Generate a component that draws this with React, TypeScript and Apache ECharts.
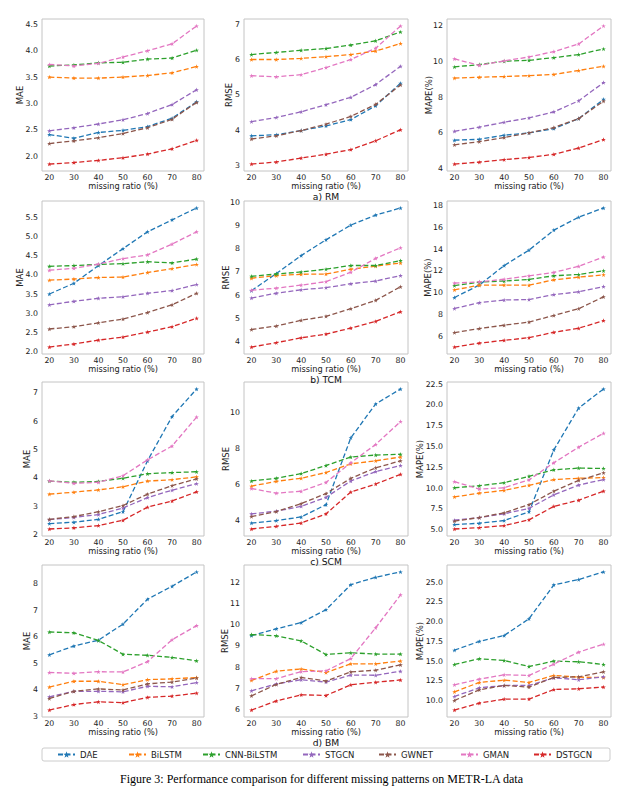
import React, { useEffect, useRef } from 'react';
import * as echarts from 'echarts';

const ratios = [20, 30, 40, 50, 60, 70, 80];
const methods = ['DAE', 'BiLSTM', 'CNN-BiLSTM', 'STGCN', 'GWNET', 'GMAN', 'DSTGCN'];
const colors = ['#1f77b4', '#ff7f0e', '#2ca02c', '#9467bd', '#8c564b', '#e377c2', '#d62728'];

// rows follow methods order: DAE, BiLSTM, CNN-BiLSTM, STGCN, GWNET, GMAN, DSTGCN
const rmMAE = [
  [2.41, 2.34, 2.45, 2.49, 2.56, 2.72, 3.03],
  [3.50, 3.48, 3.48, 3.50, 3.53, 3.58, 3.70],
  [3.71, 3.73, 3.77, 3.78, 3.84, 3.86, 4.01],
  [2.48, 2.54, 2.61, 2.69, 2.81, 2.98, 3.26],
  [2.24, 2.29, 2.35, 2.43, 2.54, 2.70, 3.02],
  [3.74, 3.71, 3.76, 3.88, 4.00, 4.13, 4.47],
  [1.85, 1.88, 1.92, 1.97, 2.04, 2.14, 2.30],
];
const rmRMSE = [
  [3.84, 3.87, 3.99, 4.12, 4.30, 4.69, 5.33],
  [6.00, 6.00, 6.03, 6.08, 6.14, 6.24, 6.45],
  [6.14, 6.20, 6.26, 6.31, 6.41, 6.53, 6.78],
  [4.24, 4.36, 4.52, 4.72, 4.93, 5.29, 5.81],
  [3.75, 3.84, 3.99, 4.17, 4.39, 4.73, 5.28],
  [5.54, 5.51, 5.57, 5.77, 6.00, 6.32, 6.95],
  [3.04, 3.10, 3.21, 3.32, 3.45, 3.70, 4.01],
];
const rmMAPE = [
  [5.59, 5.64, 5.87, 6.00, 6.24, 6.80, 7.88],
  [9.07, 9.12, 9.16, 9.21, 9.28, 9.50, 9.74],
  [9.70, 9.83, 10.02, 10.07, 10.22, 10.39, 10.71],
  [6.09, 6.32, 6.60, 6.84, 7.18, 7.80, 8.82],
  [5.33, 5.51, 5.74, 6.00, 6.30, 6.80, 7.78],
  [10.15, 9.79, 10.04, 10.26, 10.56, 10.99, 12.00],
  [4.25, 4.36, 4.50, 4.62, 4.80, 5.15, 5.63],
];
const tcmMAE = [
  [3.50, 3.78, 4.24, 4.68, 5.12, 5.43, 5.74],
  [3.86, 3.89, 3.93, 3.94, 4.06, 4.16, 4.27],
  [4.22, 4.24, 4.27, 4.29, 4.34, 4.31, 4.41],
  [3.22, 3.31, 3.39, 3.43, 3.52, 3.59, 3.75],
  [2.59, 2.65, 2.75, 2.85, 3.02, 3.22, 3.52],
  [4.12, 4.17, 4.28, 4.42, 4.52, 4.80, 5.12],
  [2.12, 2.20, 2.30, 2.38, 2.51, 2.65, 2.87],
];
const tcmRMSE = [
  [6.19, 6.93, 7.71, 8.39, 9.03, 9.46, 9.77],
  [6.73, 6.84, 6.90, 6.91, 7.12, 7.25, 7.39],
  [6.81, 6.91, 7.00, 7.12, 7.28, 7.28, 7.49],
  [5.87, 6.08, 6.23, 6.32, 6.49, 6.61, 6.84],
  [4.51, 4.66, 4.91, 5.08, 5.41, 5.77, 6.36],
  [6.21, 6.30, 6.43, 6.58, 6.99, 7.59, 8.05],
  [3.75, 3.94, 4.15, 4.31, 4.57, 4.86, 5.28],
];
const tcmMAPE = [
  [9.56, 10.70, 12.50, 13.92, 15.76, 16.95, 17.80],
  [10.26, 10.69, 10.70, 10.69, 11.19, 11.43, 11.65],
  [10.66, 10.97, 11.08, 11.22, 11.56, 11.68, 12.02],
  [8.55, 9.08, 9.33, 9.37, 9.83, 10.08, 10.57],
  [6.33, 6.70, 7.01, 7.30, 7.91, 8.53, 9.62],
  [10.88, 11.00, 11.24, 11.55, 11.87, 12.43, 13.29],
  [5.00, 5.36, 5.62, 5.86, 6.36, 6.73, 7.44],
];
const scmMAE = [
  [2.38, 2.43, 2.53, 2.80, 4.60, 6.16, 7.13],
  [3.42, 3.49, 3.57, 3.68, 3.88, 3.93, 4.03],
  [3.88, 3.84, 3.87, 3.98, 4.14, 4.18, 4.21],
  [2.52, 2.60, 2.70, 2.93, 3.30, 3.56, 3.79],
  [2.53, 2.63, 2.80, 3.02, 3.42, 3.72, 3.96],
  [3.89, 3.80, 3.84, 4.07, 4.63, 5.12, 6.14],
  [2.19, 2.23, 2.31, 2.50, 2.96, 3.18, 3.50],
];
const scmRMSE = [
  [3.83, 3.97, 4.17, 4.85, 8.57, 10.45, 11.28],
  [5.88, 6.15, 6.32, 6.64, 7.12, 7.29, 7.50],
  [6.17, 6.32, 6.58, 7.03, 7.50, 7.61, 7.65],
  [4.34, 4.49, 4.76, 5.26, 6.17, 6.69, 7.03],
  [4.19, 4.47, 4.91, 5.47, 6.32, 6.90, 7.29],
  [5.75, 5.49, 5.60, 6.09, 7.18, 8.20, 9.47],
  [3.50, 3.65, 3.83, 4.34, 5.56, 6.00, 6.54],
];
const scmMAPE = [
  [5.61, 5.77, 6.10, 7.15, 14.59, 19.63, 21.91],
  [8.94, 9.39, 9.72, 10.33, 11.02, 11.18, 11.26],
  [10.04, 10.28, 10.65, 11.42, 12.20, 12.40, 12.36],
  [6.14, 6.46, 6.91, 7.56, 9.19, 10.37, 11.02],
  [6.02, 6.46, 7.03, 8.01, 9.63, 10.93, 11.83],
  [10.77, 9.88, 10.04, 10.98, 13.05, 14.92, 16.59],
  [5.08, 5.24, 5.49, 6.18, 7.80, 8.54, 9.63],
];
const bmMAE = [
  [5.32, 5.65, 5.87, 6.48, 7.42, 7.91, 8.45],
  [4.10, 4.32, 4.32, 4.19, 4.38, 4.41, 4.46],
  [6.18, 6.15, 5.86, 5.34, 5.30, 5.22, 5.09],
  [3.73, 3.94, 3.94, 3.92, 4.13, 4.11, 4.27],
  [3.67, 3.94, 4.03, 3.99, 4.22, 4.29, 4.44],
  [4.65, 4.62, 4.68, 4.67, 5.06, 5.89, 6.42],
  [3.23, 3.44, 3.54, 3.51, 3.71, 3.76, 3.87],
];
const bmRMSE = [
  [9.49, 9.81, 10.10, 10.71, 11.89, 12.24, 12.49],
  [7.38, 7.81, 7.92, 7.75, 8.16, 8.16, 8.29],
  [9.54, 9.48, 9.24, 8.60, 8.68, 8.62, 8.62],
  [6.89, 7.21, 7.41, 7.30, 7.63, 7.62, 7.81],
  [6.65, 7.19, 7.52, 7.35, 7.78, 7.86, 8.11],
  [7.46, 7.46, 7.79, 7.83, 8.41, 9.86, 11.41],
  [5.98, 6.41, 6.70, 6.67, 7.17, 7.29, 7.40],
];
const bmMAPE = [
  [16.39, 17.50, 18.25, 20.36, 24.66, 25.34, 26.30],
  [11.12, 12.30, 12.59, 12.30, 13.19, 12.97, 12.93],
  [14.58, 15.30, 15.08, 14.32, 15.00, 14.92, 14.58],
  [10.53, 11.62, 11.92, 11.92, 12.89, 12.64, 13.02],
  [10.02, 11.37, 11.92, 11.71, 12.93, 13.02, 13.65],
  [12.00, 12.72, 13.27, 13.19, 14.62, 16.14, 17.15],
  [8.80, 9.68, 10.19, 10.19, 11.41, 11.50, 11.71],
];

const rmMaeTicks = ['2.0', '2.5', '3.0', '3.5', '4.0', '4.5'];
const rmRmseTicks = ['3', '4', '5', '6', '7'];
const rmMapeTicks = ['4', '6', '8', '10', '12'];
const tcmMaeTicks = ['2.0', '2.5', '3.0', '3.5', '4.0', '4.5', '5.0', '5.5'];
const tcmRmseTicks = ['4', '5', '6', '7', '8', '9', '10'];
const tcmMapeTicks = ['6', '8', '10', '12', '14', '16', '18'];
const scmMaeTicks = ['2', '3', '4', '5', '6', '7'];
const scmRmseTicks = ['4', '6', '8', '10'];
const scmMapeTicks = ['5.0', '7.5', '10.0', '12.5', '15.0', '17.5', '20.0', '22.5'];
const bmMaeTicks = ['3', '4', '5', '6', '7', '8'];
const bmRmseTicks = ['6', '7', '8', '9', '10', '11', '12'];
const bmMapeTicks = ['10.0', '12.5', '15.0', '17.5', '20.0', '22.5', '25.0'];

const metricTitles = ['MAE', 'RMSE', 'MAPE(%)'];
const rowCaptions = ['a) RM', 'b) TCM', 'c) SCM', 'd) BM'];
const xTitle = 'missing ratio (%)';
const figureCaption = 'Figure 3: Performance comparison for different missing patterns on METR-LA data';

// layout (pixels)
const colLeft = [42, 244, 447];
const colWidth = [162, 164, 164];
const rowTop = [19, 201, 382, 565];
const rowHeight = [152, 153, 154, 152];
const captionGap = [25.5, 25, 25, 25];
const yTitleX = [
  [20, 229, 429],
  [20, 226, 428],
  [27, 226, 420],
  [27, 225, 420],
];
const legendLeft = [57, 128, 202, 302, 378, 460, 533];

const STAR = 'path://M50 0 L61.17 34.63 L97.55 34.55 L68.07 55.87 L79.39 90.45 L50 69 L20.61 90.45 L31.93 55.87 L2.45 34.55 L38.83 34.63 Z';
const FONT = 'DejaVu Sans';

const panels = [
  [rmMAE, rmMaeTicks], [rmRMSE, rmRmseTicks], [rmMAPE, rmMapeTicks],
  [tcmMAE, tcmMaeTicks], [tcmRMSE, tcmRmseTicks], [tcmMAPE, tcmMapeTicks],
  [scmMAE, scmMaeTicks], [scmRMSE, scmRmseTicks], [scmMAPE, scmMapeTicks],
  [bmMAE, bmMaeTicks], [bmRMSE, bmRmseTicks], [bmMAPE, bmMapeTicks],
] as [number[][], string[]][];

function centered(text: string, x: number, y: number, fontSize: number, fill: string, family: string, rotation = 0) {
  return {
    type: 'text', x, y, rotation,
    style: {
      text, fontSize, fontFamily: family, fill,
      align: 'center', verticalAlign: 'middle', textAlign: 'center', textVerticalAlign: 'middle',
    },
  };
}

function buildOption() {
  const grid: any[] = [];
  const xAxis: any[] = [];
  const yAxis: any[] = [];
  const series: any[] = [];
  const graphic: any[] = [];

  panels.forEach(([data, ticks], pi) => {
    const row = Math.floor(pi / 3);
    const col = pi % 3;
    const all = data.flat();
    const lo = Math.min(...all);
    const hi = Math.max(...all);
    const pad = (hi - lo) * 0.05;
    const decimals = ticks[0].includes('.') ? 1 : 0;
    grid.push({
      left: colLeft[col], top: rowTop[row], width: colWidth[col], height: rowHeight[row],
      show: true, borderColor: '#c4c4c4', borderWidth: 1, backgroundColor: '#fff',
    });
    xAxis.push({
      type: 'value', gridIndex: pi, min: 17, max: 83,
      axisLine: { show: false }, axisTick: { show: false }, splitLine: { show: false },
      axisLabel: {
        customValues: ratios, formatter: (v: number) => String(v),
        fontSize: 7.8, fontFamily: FONT, color: '#222', margin: 2, lineHeight: 9,
      },
    });
    yAxis.push({
      type: 'value', gridIndex: pi, min: lo - pad, max: hi + pad,
      axisLine: { show: false }, axisTick: { show: false }, splitLine: { show: false },
      axisLabel: {
        customValues: ticks.map(Number), formatter: (v: number) => v.toFixed(decimals),
        fontSize: 7.8, fontFamily: FONT, color: '#222', margin: 4,
      },
    });
    data.forEach((vals, mi) => {
      series.push({
        type: 'line', name: methods[mi], xAxisIndex: pi, yAxisIndex: pi,
        data: ratios.map((r, k) => [r, vals[k]]),
        symbol: STAR, symbolSize: 4.5, showSymbol: true,
        lineStyle: { color: colors[mi], width: 1.3, type: [5, 2.5] },
        itemStyle: { color: colors[mi] },
        z: 2 + mi,
      });
    });
    graphic.push(centered(metricTitles[col], yTitleX[row][col], rowTop[row] + rowHeight[row] / 2, 8.5, '#222', FONT, Math.PI / 2));
    graphic.push(centered(xTitle, colLeft[col] + colWidth[col] / 2, rowTop[row] + rowHeight[row] + 15, 8.2, '#222', FONT));
  });

  rowCaptions.forEach((c, row) => {
    graphic.push(centered(c, colLeft[1] + colWidth[1] / 2, rowTop[row] + rowHeight[row] + captionGap[row], 9.2, '#111', FONT));
  });

  graphic.push({
    type: 'rect', shape: { x: 42, y: 748, width: 568, height: 13, r: 2 },
    style: { fill: 'none', stroke: '#cccccc', lineWidth: 1 }, z: 0,
  });
  graphic.push(centered(figureCaption, 321.5, 779, 12, '#000', 'Liberation Serif'));

  const legend = methods.map((m, i) => ({
    data: [m], left: legendLeft[i], top: 750, padding: 0, itemWidth: 17, itemHeight: 8,
    textStyle: { fontSize: 8.5, fontFamily: FONT, color: '#222' },
    selectedMode: false,
  }));

  return {
    animation: false,
    backgroundColor: '#fff',
    grid, xAxis, yAxis, series, graphic, legend,
  };
}

export default function App() {
  const ref = useRef<HTMLDivElement>(null);
  useEffect(() => {
    if (!ref.current) return;
    const chart = echarts.init(ref.current, undefined, { renderer: 'svg' });
    chart.setOption(buildOption() as any);
    return () => chart.dispose();
  }, []);
  return (
    <div
      ref={ref}
      style={{ position: 'absolute', left: 0, top: 0, width: 643, height: 801 }}
    />
  );
}
